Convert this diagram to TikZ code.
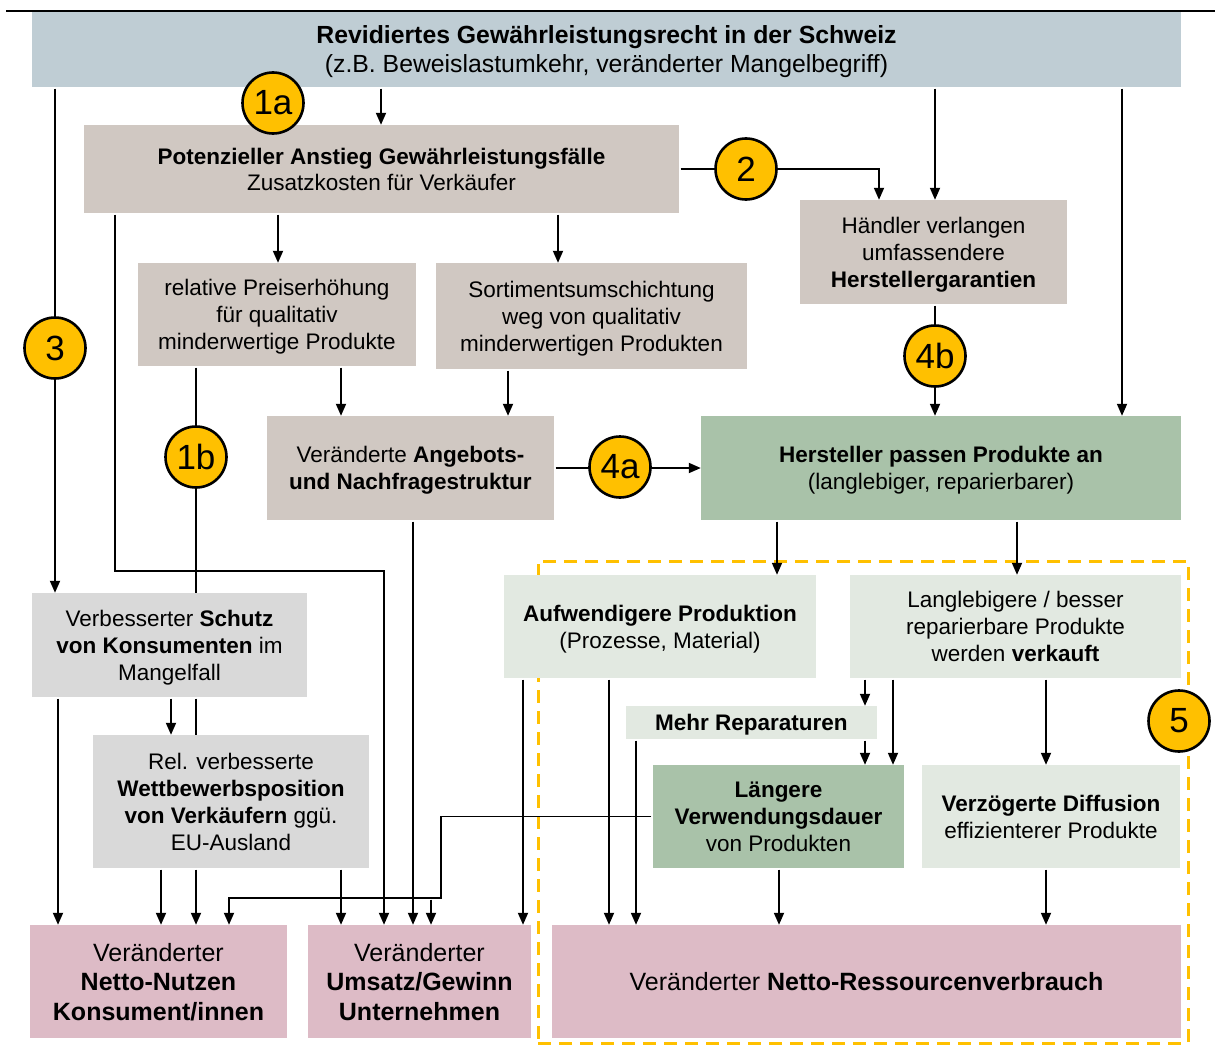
\documentclass[tikz,border=0pt]{standalone}
\usepackage{fontspec}
\setmainfont{Liberation Sans}
\usetikzlibrary{arrows.meta}
\definecolor{lawblue}{HTML}{BFCDD4}
\definecolor{beige}{HTML}{D0C8C2}
\definecolor{midgreen}{HTML}{A9C2A9}
\definecolor{lightgreen}{HTML}{E2E9E1}
\definecolor{lightgray}{HTML}{D9D9D9}
\definecolor{pinkbox}{HTML}{DDBBC6}
\definecolor{yell}{HTML}{FFC000}
\newcommand{\topS}{\rule{0pt}{22pt}}
\newcommand{\botS}{\rule[-6pt]{0pt}{0pt}}
\newcommand{\topL}{\rule{0pt}{25pt}}
\newcommand{\botL}{\rule[-7pt]{0pt}{0pt}}
\tikzset{
  box/.style={rectangle, inner sep=0pt, align=center, draw=none, font=\fontsize{22.5}{27}\selectfont},
  bigbox/.style={box, font=\fontsize{25}{29.5}\selectfont},
  arr/.style={-{Triangle[length=12pt,width=10pt]}, line width=1.8pt, shorten <=1.5pt},
  ln/.style={line width=1.8pt, shorten <=1.5pt},
  num/.style={circle, fill=yell, draw=black, line width=2.6pt, minimum size=61pt, inner sep=0pt, font=\fontsize{35}{35}\selectfont},
  grpframe/.style={rectangle, draw=yell, line width=3pt, dash pattern=on 13pt off 8pt, inner sep=0pt},
}
\begin{document}
\begin{tikzpicture}[x=1pt, y=-1pt]
\useasboundingbox (0,0) rectangle (1220,1046);
\fill[white] (0,0) rectangle (1220,1046);
% top rule
\draw[line width=2pt] (6,11) -- (1215,11);
% dashed group frame (5)
\node[grpframe, minimum width=650pt, minimum height=482pt] (grp) at (863,802) {};
% boxes
\node[box, fill=lawblue, minimum width=1149pt, minimum height=75pt, font=\fontsize{24.8}{29}\selectfont] (law) at (606.5,49.5)
  {\topL\textbf{Revidiertes Gewährleistungsrecht in der Schweiz}\\(z.B. Beweislastumkehr, veränderter Mangelbegriff)\botL};
\node[box, fill=beige, minimum width=595pt, minimum height=88pt, font=\fontsize{22.5}{26}\selectfont] (pot) at (381.5,169)
  {\topS\textbf{Potenzieller Anstieg Gewährleistungsfälle}\\Zusatzkosten für Verkäufer\botS};
\node[box, fill=beige, minimum width=267pt, minimum height=104pt] (haend) at (933.5,252)
  {\topS Händler verlangen\\umfassendere\\\textbf{Herstellergarantien}\botS};
\node[box, fill=beige, minimum width=278pt, minimum height=103pt] (preis) at (277,314.5)
  {\topS relative Preiserhöhung\\für qualitativ\\minderwertige Produkte\botS};
\node[box, fill=beige, minimum width=311pt, minimum height=106pt] (sort) at (591.5,316)
  {\topS Sortimentsumschichtung\\weg von qualitativ\\minderwertigen Produkten\botS};
\node[box, fill=beige, minimum width=287pt, minimum height=104pt] (angeb) at (410.5,468)
  {\topS Veränderte \textbf{Angebots-}\\\textbf{und Nachfragestruktur}\botS};
\node[box, fill=midgreen, minimum width=480pt, minimum height=104pt] (herst) at (941,468)
  {\topS\textbf{Hersteller passen Produkte an}\\(langlebiger, reparierbarer)\botS};
\node[box, fill=lightgreen, minimum width=312pt, minimum height=103pt] (aufw) at (660,626.5)
  {\topS\textbf{Aufwendigere Produktion}\\(Prozesse, Material)\botS};
\node[box, fill=lightgreen, minimum width=331pt, minimum height=103pt] (lang) at (1015.5,626.5)
  {\topS Langlebigere / besser\\reparierbare Produkte\\werden \textbf{verkauft}\botS};
\node[box, fill=lightgray, minimum width=275pt, minimum height=104pt] (schutz) at (169.5,645)
  {\topS Verbesserter \textbf{Schutz}\\\textbf{von Konsumenten} im\\Mangelfall\botS};
\node[box, fill=lightgreen, minimum width=251pt, minimum height=33pt] (mehr) at (751.5,722.5)
  {\topS\textbf{Mehr Reparaturen}\botS};
\node[box, fill=midgreen, minimum width=251pt, minimum height=103pt] (laenger) at (778.5,816.5)
  {\topS\textbf{Längere}\\\textbf{Verwendungsdauer}\\von Produkten\botS};
\node[box, fill=lightgreen, minimum width=258pt, minimum height=103pt] (verz) at (1051,816.5)
  {\topS\textbf{Verzögerte Diffusion}\\effizienterer Produkte\botS};
\node[box, fill=lightgray, minimum width=276pt, minimum height=133pt] (rel) at (231,801.5)
  {\topS Rel. verbesserte\\\textbf{Wettbewerbsposition}\\\textbf{von Verkäufern} ggü.\\EU-Ausland\botS};
\node[bigbox, fill=pinkbox, minimum width=257pt, minimum height=113pt] (nutzen) at (158.5,981.5)
  {\topL Veränderter\\\textbf{Netto-Nutzen}\\\textbf{Konsument/innen}\botL};
\node[bigbox, fill=pinkbox, minimum width=223pt, minimum height=113pt] (umsatz) at (419.5,981.5)
  {\topL Veränderter\\\textbf{Umsatz/Gewinn}\\\textbf{Unternehmen}\botL};
\node[bigbox, fill=pinkbox, minimum width=629pt, minimum height=113pt] (ress) at (866.5,981.5)
  {\topL Veränderter \textbf{Netto-Ressourcenverbrauch}\botL};
% connectors
\draw[arr] (381,0 |- law.south) -- (381,0 |- pot.north);
\draw[arr] (55,0 |- law.south) -- (55,0 |- schutz.north);
\draw[arr] (935,0 |- law.south) -- (935,0 |- haend.north);
\draw[arr] (1122,0 |- law.south) -- (1122,0 |- herst.north);
\draw[arr] (pot.east) -- (pot.east -| 879,0) -- (879,0 |- haend.north);
\draw[arr] (278,0 |- pot.south) -- (278,0 |- preis.north);
\draw[arr] (558,0 |- pot.south) -- (558,0 |- sort.north);
\draw[arr] (115,0 |- pot.south) -- (115,571) -- (384,571) -- (384,0 |- umsatz.north);
\draw[ln] (196,0 |- preis.south) -- (196,0 |- schutz.north);
\draw[ln] (196,0 |- schutz.south) -- (196,0 |- rel.north);
\draw[arr] (196,0 |- rel.south) -- (196,0 |- nutzen.north);
\draw[arr] (341,0 |- preis.south) -- (341,0 |- angeb.north);
\draw[arr] (508,0 |- sort.south) -- (508,0 |- angeb.north);
\draw[arr] (angeb.east) -- (herst.west);
\draw[arr] (935,0 |- haend.south) -- (935,0 |- herst.north);
\draw[arr] (413,0 |- angeb.south) -- (413,0 |- umsatz.north);
\draw[arr] (777,0 |- herst.south) -- (777,0 |- aufw.north);
\draw[arr] (1017,0 |- herst.south) -- (1017,0 |- lang.north);
\draw[arr] (58,0 |- schutz.south) -- (58,0 |- nutzen.north);
\draw[arr] (171,0 |- schutz.south) -- (171,0 |- rel.north);
\draw[arr] (161,0 |- rel.south) -- (161,0 |- nutzen.north);
\draw[arr] (341,0 |- rel.south) -- (341,0 |- umsatz.north);
\coordinate (jn) at (431,898);
\draw[arr] (laenger.west) -- (laenger.west -| 441,0) -- (441,898) -- (229,898) -- (229,0 |- nutzen.north);
\draw[arr] (jn) -- (jn |- umsatz.north);
\draw[arr] (523,0 |- aufw.south) -- (523,0 |- umsatz.north);
\draw[arr] (609,0 |- aufw.south) -- (609,0 |- ress.north);
\draw[arr] (636,0 |- mehr.south) -- (636,0 |- ress.north);
\draw[arr] (865,0 |- lang.south) -- (865,0 |- mehr.north);
\draw[arr] (865,0 |- mehr.south) -- (865,0 |- laenger.north);
\draw[arr] (893,0 |- lang.south) -- (893,0 |- laenger.north);
\draw[arr] (1046,0 |- lang.south) -- (1046,0 |- verz.north);
\draw[arr] (779,0 |- laenger.south) -- (779,0 |- ress.north);
\draw[arr] (1046,0 |- verz.south) -- (1046,0 |- ress.north);
% numbered circles
\node[num] (c1a) at (273,103) {1a};
\node[num] (c2) at (746,169) {2};
\node[num] (c3) at (55,348) {3};
\node[num] (c4b) at (935,356) {4b};
\node[num] (c1b) at (196,457) {1b};
\node[num] (c4a) at (620,467) {4a};
\node[num] (c5) at (1179,721) {5};
\end{tikzpicture}
\end{document}
